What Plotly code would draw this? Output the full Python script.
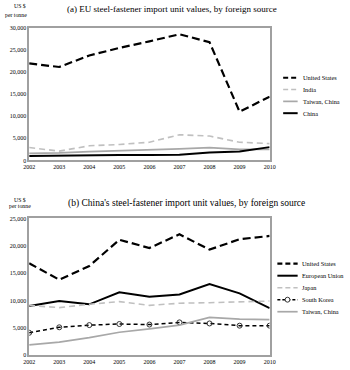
import plotly.graph_objects as go

years = [2002, 2003, 2004, 2005, 2006, 2007, 2008, 2009, 2010]

# Panel (a): EU imports
eu_us = [21900, 21100, 23700, 25400, 26900, 28500, 26700, 11000, 14400]
eu_india = [2900, 2100, 3300, 3600, 4100, 5800, 5500, 4100, 3800]
eu_taiwan = [1600, 1700, 2000, 2200, 2300, 2600, 2900, 2500, 2500]
eu_china = [1000, 1100, 1200, 1200, 1200, 1300, 1800, 2000, 3000]

# Panel (b): China imports
cn_us = [16800, 13800, 16300, 21100, 19600, 22100, 19300, 21200, 21800]
cn_eu = [9000, 9900, 9300, 11500, 10700, 11100, 13000, 11300, 8600]
cn_japan = [9100, 8700, 9300, 9800, 9100, 9500, 9600, 9800, 9900]
cn_korea = [4100, 5100, 5500, 5700, 5600, 6000, 5800, 5400, 5400]
cn_taiwan = [1900, 2400, 3200, 4200, 4800, 5500, 6900, 6600, 6500]

FONT = "Liberation Serif"
W, H = 350, 370
fig = go.Figure()

STY = {
    "us": dict(color="black", width=2.2, dash="8px,4px"),
    "light_dash": dict(color="#c0c0c0", width=1.6, dash="6px,4px"),
    "gray": dict(color="#a8a8a8", width=1.7, dash="solid"),
    "black": dict(color="black", width=2.0, dash="solid"),
    "korea": dict(color="black", width=1.5, dash="4px,3px"),
}
KOREA_MARKER = dict(symbol="circle-open", size=5, color="#333333", line=dict(width=1))

panel_a = [("United States", eu_us, "us"), ("India", eu_india, "light_dash"),
           ("Taiwan, China", eu_taiwan, "gray"), ("China", eu_china, "black")]
panel_b = [("United States", cn_us, "us"), ("European Union", cn_eu, "black"),
           ("Japan", cn_japan, "light_dash"), ("South Korea", cn_korea, "korea"),
           ("Taiwan, China", cn_taiwan, "gray")]

for xa, ya, panel in [("x", "y", panel_a), ("x2", "y2", panel_b)]:
    for name, vals, sk in panel:
        kw = dict(x=years, y=vals, name=name, mode="lines", xaxis=xa, yaxis=ya,
                  showlegend=False, line=STY[sk])
        if sk == "korea":
            kw["mode"] = "lines+markers"
            kw["marker"] = KOREA_MARKER
        fig.add_trace(go.Scatter(**kw))

# Manual compact legends (layout decoration)
def legend(panel, x0, x1, xt, y0, dy):
    for i, (name, _, sk) in enumerate(panel):
        yp = 1 - (y0 + i * dy) / H
        s = STY[sk]
        fig.add_shape(type="line", xref="paper", yref="paper", x0=x0 / W, x1=x1 / W, y0=yp, y1=yp,
                      line=dict(color=s["color"], width=s["width"],
                                dash="3px,2px" if sk == "korea" else ("5px,3px" if s["dash"] != "solid" else "solid")))
        if sk == "korea":
            xc = (x0 + x1) / 2
            fig.add_shape(type="circle", xref="paper", yref="paper",
                          x0=(xc - 2.5) / W, x1=(xc + 2.5) / W, y0=yp - 2.5 / H, y1=yp + 2.5 / H,
                          fillcolor="white", line=dict(color="#333333", width=1))
        fig.add_annotation(text=name, x=xt / W, y=yp, xref="paper", yref="paper", showarrow=False,
                           xanchor="left", yanchor="middle",
                           font=dict(family=FONT, size=6.3, color="black"))

legend(panel_a, 287, 302, 305, 76, 12)
legend(panel_b, 281, 302, 304, 265, 12.2)

xdom = [24 / W, 273 / W]
axcommon = dict(showgrid=False, zeroline=False, showline=True, mirror=True,
                linecolor="#a0a0a0", linewidth=1.5, ticks="",
                tickfont=dict(family=FONT, size=6, color="black"))

fig.update_layout(
    width=W, height=H,
    margin=dict(l=0, r=0, t=0, b=0),
    paper_bgcolor="white", plot_bgcolor="white",
    font=dict(family=FONT, color="black"),
    xaxis=dict(domain=xdom, anchor="y", range=[2002, 2010], tickvals=years,
               ticktext=[str(v) for v in years], **axcommon),
    yaxis=dict(domain=[1 - 160 / H, 1 - 25 / H], anchor="x", range=[0, 30000],
               tickvals=[0, 5000, 10000, 15000, 20000, 25000, 30000],
               ticktext=["0", "5,000", "10,000", "15,000", "20,000", "25,000", "30,000"], **axcommon),
    xaxis2=dict(domain=xdom, anchor="y2", range=[2002, 2010], tickvals=years,
                ticktext=[str(v) for v in years], **axcommon),
    yaxis2=dict(domain=[1 - 358 / H, 1 - 219 / H], anchor="x2", range=[0, 25000],
                tickvals=[0, 5000, 10000, 15000, 20000, 25000],
                ticktext=["0", "5,000", "10,000", "15,000", "20,000", "25,000"], **axcommon),
)

annots = [
    dict(text="(a) EU steel-fastener import unit values, by foreign source",
         x=172 / W, y=1 - 6 / H, size=9),
    dict(text="(b) China's steel-fastener import unit values, by foreign source",
         x=187 / W, y=1 - 204 / H, size=9.5),
    dict(text="US $", x=15 / W, y=1 - 3 / H, size=5.8),
    dict(text="per tonne", x=10 / W, y=1 - 12 / H, size=5.8),
    dict(text="US $", x=15 / W, y=1 - 200 / H, size=5.8),
    dict(text="per tonne", x=15 / W, y=1 - 206 / H, size=5.8),
]
for a in annots:
    fig.add_annotation(text=a["text"], x=a["x"], y=a["y"], xref="paper", yref="paper",
                       showarrow=False, xanchor="center", yanchor="middle",
                       font=dict(family=FONT, size=a["size"], color="black"))

fig.write_html("out.html", config={"displayModeBar": False},
               post_script="document.body.style.margin='0';document.body.style.overflow='hidden';")
